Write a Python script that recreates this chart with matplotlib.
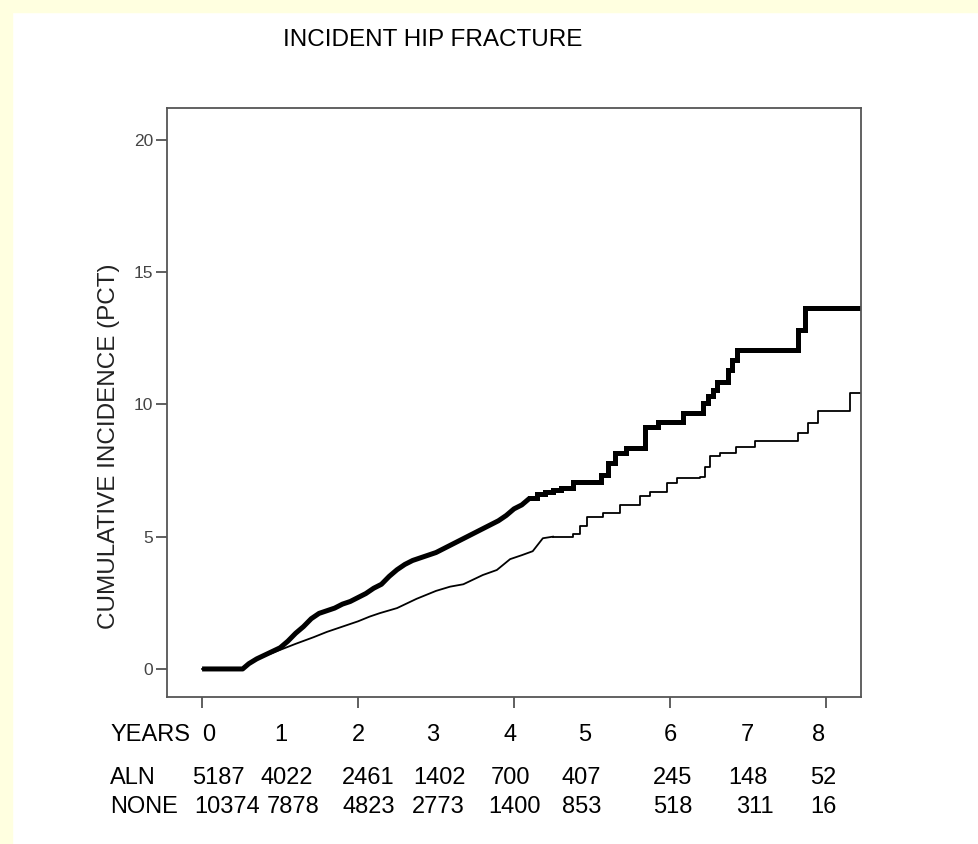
import numpy as np
import matplotlib
matplotlib.use("Agg")
from matplotlib import pyplot as plt
from matplotlib.patches import Rectangle

plt.rcParams["font.family"] = ["Liberation Sans", "DejaVu Sans"]

# cumulative incidence (pct); early part has tiny steps, later part clear steps
aln_t = [0, 0.52, 0.6, 0.7, 0.8, 0.9, 1.0, 1.1, 1.2, 1.3, 1.4, 1.5, 1.6, 1.7, 1.8, 1.9,
         2.0, 2.1, 2.2, 2.3, 2.4, 2.5, 2.6, 2.7, 2.8, 2.9, 3.0, 3.1, 3.2, 3.3, 3.4, 3.5,
         3.6, 3.7, 3.8, 3.9, 4.0, 4.1, 4.2, 4.3, 4.4, 4.5, 4.6, 4.76, 5.12, 5.21, 5.29,
         5.44, 5.68, 5.85, 6.17, 6.43, 6.49, 6.55, 6.6, 6.75, 6.8, 6.86, 7.64, 7.73, 8.45]
aln_y = [0, 0.0, 0.2, 0.38, 0.52, 0.66, 0.8, 1.05, 1.35, 1.6, 1.9, 2.1, 2.2, 2.3, 2.45, 2.55,
         2.7, 2.85, 3.05, 3.2, 3.5, 3.75, 3.95, 4.1, 4.2, 4.3, 4.4, 4.55, 4.7, 4.85, 5.0, 5.15,
         5.3, 5.45, 5.6, 5.8, 6.05, 6.2, 6.45, 6.6, 6.7, 6.75, 6.83, 7.08, 7.33, 7.78, 8.16,
         8.35, 9.16, 9.35, 9.67, 10.05, 10.3, 10.55, 10.86, 11.3, 11.68, 12.06, 12.82, 13.65, 13.65]
aln_split = 38  # index where visible steps begin

none_t = [0, 0.52, 0.6, 0.7, 0.8, 0.9, 1.0, 1.2, 1.43, 1.6, 1.85, 2.0, 2.15, 2.28, 2.5, 2.75,
          3.0, 3.18, 3.35, 3.6, 3.78, 3.95, 4.1, 4.24, 4.37, 4.5, 4.76, 4.85, 4.93, 5.14, 5.36,
          5.62, 5.74, 5.96, 6.09, 6.38, 6.45, 6.51, 6.64, 6.85, 7.09, 7.64, 7.77, 7.9, 8.31, 8.45]
none_y = [0, 0.0, 0.2, 0.38, 0.5, 0.6, 0.72, 0.95, 1.2, 1.4, 1.65, 1.8, 1.98, 2.11, 2.3, 2.65,
          2.95, 3.11, 3.2, 3.55, 3.74, 4.15, 4.3, 4.45, 4.94, 5.0, 5.1, 5.4, 5.76, 5.9, 6.2,
          6.52, 6.7, 7.02, 7.2, 7.27, 7.65, 8.03, 8.16, 8.4, 8.6, 8.9, 9.28, 9.73, 10.42, 10.42]
none_split = 25

# numbers at risk table
years = [0, 1, 2, 3, 4, 5, 6, 7, 8]
year_pos = [0.09, 1.01, 2.01, 2.96, 3.95, 4.91, 6.0, 6.99, 7.91]
aln_risk = ["5187", "4022", "2461", "1402", "700", "407", "245", "148", "52"]
aln_pos = [0.205, 1.08, 2.13, 3.04, 3.96, 4.86, 6.03, 7.0, 7.97]
none_risk = ["10374", "7878", "4823", "2773", "1400", "853", "518", "311", "16"]
none_pos = [0.32, 1.17, 2.14, 3.03, 4.01, 4.87, 6.04, 7.09, 7.97]

fig = plt.figure(figsize=(9.79, 8.44), dpi=100)
fig.patch.set_facecolor("white")
# yellow page border
fig.patches.append(Rectangle((0, 1 - 12 / 844), 1, 12 / 844, transform=fig.transFigure,
                             color="#ffffe0", zorder=0))
fig.patches.append(Rectangle((0, 0), 12 / 979, 1, transform=fig.transFigure,
                             color="#ffffe0", zorder=0))

ax = fig.add_axes([167 / 979, 1 - 697 / 844, 694 / 979, 589 / 844])
ax.plot(aln_t[:aln_split + 1], aln_y[:aln_split + 1], color="black", linewidth=3.6,
        solid_joinstyle="round", solid_capstyle="butt")
ax.plot(aln_t[aln_split:], aln_y[aln_split:], drawstyle="steps-post", color="black",
        linewidth=3.6, solid_joinstyle="miter")
ax.plot(none_t[:none_split + 1], none_y[:none_split + 1], color="black", linewidth=1.3)
ax.plot(none_t[none_split:], none_y[none_split:], drawstyle="steps-post", color="black",
        linewidth=1.3)

ax.set_xlim(-0.45, 8.45)
ax.set_ylim(-1.06, 21.2)
ax.set_xticks([0, 2, 4, 6, 8])
ax.set_xticklabels([])
ax.set_yticks([0, 5, 10, 15, 20])
ax.tick_params(axis="both", direction="out", length=8, width=1.2, color="#444444")
ax.tick_params(axis="y", labelsize=12.5, labelcolor="#444444", pad=2)
for s in ax.spines.values():
    s.set_color("#555555")
    s.set_linewidth(1.3)

ax.set_ylabel("CUMULATIVE INCIDENCE (PCT)", fontsize=17.5, color="#222222")
ax.yaxis.set_label_coords(-0.068, 0.426)

fig.text(433 / 979, 1 - 40 / 844, "INCIDENT HIP FRACTURE", ha="center", va="center",
         fontsize=17.5)

tr = ax.get_xaxis_transform()
row_y = [(697 - 735) / 589, (697 - 778) / 589, (697 - 807) / 589]
fs = 17
ax.text(-0.154, row_y[0], "YEARS", transform=tr, ha="right", va="center", fontsize=fs,
        clip_on=False)
ax.text(-1.18, row_y[1], "ALN", transform=tr, ha="left", va="center", fontsize=fs,
        clip_on=False)
ax.text(-1.18, row_y[2], "NONE", transform=tr, ha="left", va="center", fontsize=fs,
        clip_on=False)
for x, lab in zip(year_pos, years):
    ax.text(x, row_y[0], str(lab), transform=tr, ha="center", va="center", fontsize=fs,
            clip_on=False)
for x, lab in zip(aln_pos, aln_risk):
    ax.text(x, row_y[1], lab, transform=tr, ha="center", va="center", fontsize=fs,
            clip_on=False)
for x, lab in zip(none_pos, none_risk):
    ax.text(x, row_y[2], lab, transform=tr, ha="center", va="center", fontsize=fs,
            clip_on=False)

fig.savefig("out.png", dpi=100)
